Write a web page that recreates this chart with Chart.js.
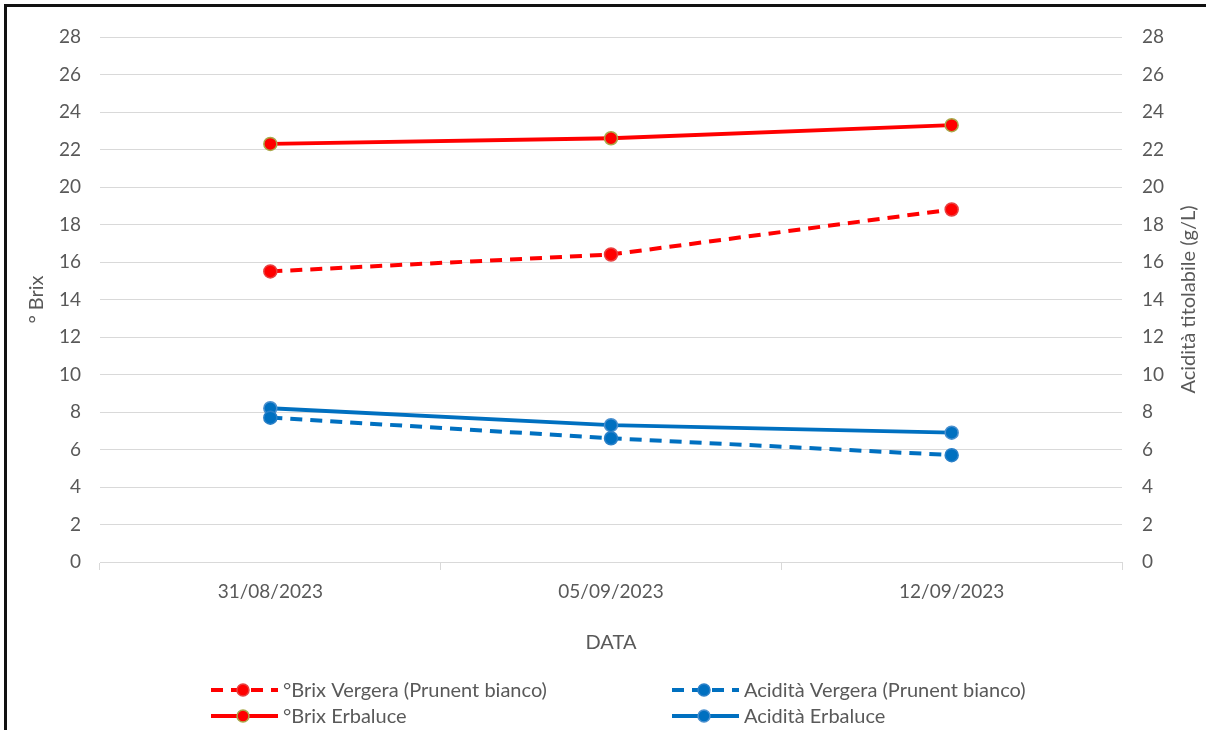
<!DOCTYPE html>
<html lang="it">
<head>
<meta charset="UTF-8" />
<title>Brix e acidità</title>
<script src="https://cdn.jsdelivr.net/npm/chart.js"></script>
<style>
	html, body { margin: 0; padding: 0; background: #fff; }
	#wrap { position: relative; width: 1206px; height: 730px; }
	#frame {
		position: absolute; left: 4px; top: 4px; right: 0; bottom: 0;
		border-left: 3px solid #111; border-top: 3px solid #111;
		pointer-events: none;
	}
</style>
</head>
<body>
<div id="wrap">
	<canvas id="chart" width="1206" height="730"></canvas>
	<div id="frame"></div>
</div>
<script>
const dates = ["31/08/2023", "05/09/2023", "12/09/2023"];
const brixVergera = [15.5, 16.4, 18.8];
const brixErbaluce = [22.3, 22.6, 23.3];
const acidVergera = [7.7, 6.6, 5.7];
const acidErbaluce = [8.2, 7.3, 6.9];

const textColor = "#595959";
const fontFamily = "Lato, 'Open Sans', sans-serif";
const red = "#ff0000";
const blue = "#0070c0";

// legend drawn by hand (2 columns, line sample + marker) and both y titles
// reading bottom-to-top like the original
const extras = {
	id: "extras",
	afterDraw(chart) {
		const ctx = chart.ctx;
		const area = chart.chartArea;
		const cols = [211, 672];
		const rows = [690, 716];
		const order = [0, 2, 1, 3]; // dataset index per slot
		ctx.save();
		ctx.font = "20px " + fontFamily;
		ctx.textBaseline = "middle";
		order.forEach((di, slot) => {
			const ds = chart.data.datasets[di];
			const x = cols[slot % 2];
			const y = rows[Math.floor(slot / 2)];
			ctx.strokeStyle = ds.borderColor;
			ctx.lineWidth = 4;
			ctx.setLineDash(ds.borderDash || []);
			ctx.beginPath();
			ctx.moveTo(x, y);
			ctx.lineTo(x + 67, y);
			ctx.stroke();
			ctx.setLineDash([]);
			ctx.beginPath();
			ctx.arc(x + 32, y, 6, 0, Math.PI * 2);
			ctx.fillStyle = ds.pointBackgroundColor;
			ctx.fill();
			ctx.lineWidth = 1.5;
			ctx.strokeStyle = ds.pointBorderColor;
			ctx.stroke();
			ctx.fillStyle = textColor;
			ctx.fillText(ds.label, x + 72, y + 1);
		});

		const midY = (area.top + area.bottom) / 2;
		ctx.font = "20px " + fontFamily;
		ctx.textAlign = "center";
		[[37, chart.options.scales.y.title.text], [1189, chart.options.scales.y2.title.text]]
			.forEach(([x, text]) => {
				ctx.save();
				ctx.translate(x, midY);
				ctx.rotate(-Math.PI / 2);
				ctx.fillText(text, 0, 0);
				ctx.restore();
			});
		ctx.restore();
	}
};

new Chart(document.getElementById("chart"), {
	type: "line",
	data: {
		labels: dates,
		datasets: [
			{
				label: "°Brix Vergera (Prunent bianco)",
				data: brixVergera,
				yAxisID: "y",
				borderColor: red,
				borderDash: [12, 8],
				pointBackgroundColor: red,
				pointBorderColor: "#e84040",
			},
			{
				label: "°Brix Erbaluce",
				data: brixErbaluce,
				yAxisID: "y",
				borderColor: red,
				pointBackgroundColor: red,
				pointBorderColor: "#a9a94a",
			},
			{
				label: "Acidità Vergera (Prunent bianco)",
				data: acidVergera,
				yAxisID: "y2",
				borderColor: blue,
				borderDash: [12, 8],
				pointBackgroundColor: blue,
				pointBorderColor: "#2a80c8",
			},
			{
				label: "Acidità Erbaluce",
				data: acidErbaluce,
				yAxisID: "y2",
				borderColor: blue,
				pointBackgroundColor: blue,
				pointBorderColor: "#4a90cf",
			},
		],
	},
	options: {
		responsive: false,
		animation: false,
		layout: { padding: { top: 37, bottom: 75, left: 0, right: 0 } },
		elements: {
			line: { borderWidth: 4, tension: 0 },
			point: { radius: 6.5, borderWidth: 1.5 },
		},
		plugins: {
			legend: { display: false },
			tooltip: { enabled: false },
		},
		scales: {
			x: {
				offset: true,
				grid: {
					offset: true,
					drawOnChartArea: false,
					color: "#d9d9d9",
					tickLength: 8,
				},
				border: { color: "#d9d9d9" },
				ticks: {
					color: textColor,
					font: { family: fontFamily, size: 19 },
					maxRotation: 0,
					padding: 10,
				},
				title: {
					display: true,
					text: "DATA",
					color: textColor,
					font: { family: fontFamily, size: 20 },
					padding: { top: 18, bottom: 0 },
				},
				afterFit(scale) { scale.height = 93; },
			},
			y: {
				position: "left",
				min: 0,
				max: 28,
				ticks: {
					stepSize: 2,
					color: textColor,
					font: { family: fontFamily, size: 19 },
					padding: 19,
				},
				grid: { color: "#d9d9d9", drawTicks: false },
				border: { display: false },
				title: { display: false, text: "° Brix" },
				afterFit(scale) { scale.width = 100; },
			},
			y2: {
				position: "right",
				min: 0,
				max: 28,
				ticks: {
					stepSize: 2,
					color: textColor,
					font: { family: fontFamily, size: 19 },
					padding: 20,
				},
				grid: { drawOnChartArea: false, drawTicks: false },
				border: { display: false },
				title: { display: false, text: "Acidità titolabile (g/L)" },
				afterFit(scale) { scale.width = 84; },
			},
		},
	},
	plugins: [extras],
});
</script>
</body>
</html>
